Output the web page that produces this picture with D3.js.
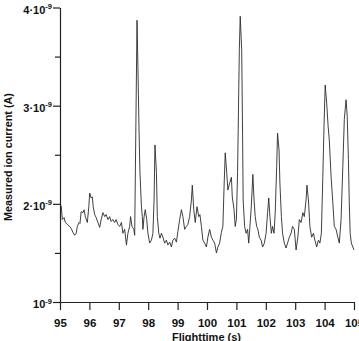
<!DOCTYPE html>
<html>
<head>
<meta charset="utf-8">
<script src="https://cdn.jsdelivr.net/npm/d3@7"></script>
<style>
  html, body { margin: 0; padding: 0; background: #fff; }
  svg { display: block; }
  text { font-family: "Liberation Sans", Arial, sans-serif; font-weight: bold; fill: #111; }
</style>
</head>
<body>
<svg id="chart" width="359" height="341"></svg>
<script>
// Flight time (s)
const flightTime = [
  95.04,95.08,95.14,95.18,95.25,95.33,95.38,95.44,95.50,95.55,95.59,95.65,95.68,95.72,95.78,95.82,95.86,95.93,95.98,
  96.01,96.06,96.10,96.13,96.18,96.23,96.29,96.35,96.40,96.46,96.52,96.57,96.63,96.69,96.74,96.80,96.86,96.91,96.97,
  97.03,97.09,97.14,97.20,97.26,97.31,97.37,97.40,97.45,97.51,97.54,97.62,97.65,97.69,97.72,97.77,97.80,97.82,97.86,97.90,97.95,97.99,
  98.05,98.11,98.16,98.20,98.23,98.28,98.31,98.36,98.40,98.45,98.50,98.56,98.62,98.67,98.73,98.79,98.84,98.90,98.96,
  99.01,99.07,99.13,99.18,99.24,99.30,99.35,99.41,99.47,99.50,99.55,99.60,99.66,99.72,99.76,99.81,99.86,99.92,99.98,
  100.03,100.09,100.15,100.20,100.26,100.32,100.37,100.43,100.49,100.54,100.58,100.62,100.67,100.71,100.77,100.83,100.86,100.92,100.96,
  101.00,101.04,101.10,101.13,101.18,101.21,101.23,101.28,101.33,101.38,101.42,101.46,101.50,101.53,101.56,101.60,101.64,101.69,101.73,101.78,101.84,101.89,101.95,
  102.01,102.06,102.10,102.14,102.19,102.23,102.28,102.32,102.37,102.40,102.45,102.48,102.53,102.57,102.63,102.69,102.74,102.80,102.86,102.91,102.97,
  103.03,103.09,103.14,103.20,103.26,103.31,103.37,103.40,103.45,103.50,103.56,103.62,103.67,103.73,103.79,103.84,103.89,103.94,103.98,
  104.02,104.07,104.12,104.16,104.22,104.28,104.33,104.39,104.45,104.50,104.56,104.62,104.67,104.73,104.77,104.81,104.84,104.87,104.91,104.96,105.00
];
// Measured ion current, in units of 1e-9 A
const ionCurrent = [
  1.98,1.84,1.86,1.81,1.79,1.77,1.75,1.71,1.68,1.70,1.77,1.81,1.80,1.92,1.91,1.94,1.87,1.81,1.97,
  2.11,2.06,2.07,1.97,1.89,1.86,1.81,1.76,1.84,1.91,1.87,1.89,1.84,1.87,1.82,1.84,1.81,1.84,1.79,
  1.77,1.81,1.70,1.74,1.58,1.70,1.77,1.87,1.77,1.74,1.68,3.87,3.40,2.72,2.32,1.97,1.87,1.74,1.87,1.94,1.84,1.70,
  1.60,1.63,1.70,2.04,2.60,2.32,1.87,1.70,1.65,1.70,1.66,1.60,1.63,1.58,1.61,1.56,1.63,1.65,1.61,
  1.72,1.84,1.94,1.87,1.74,1.77,1.79,1.87,2.04,2.19,1.94,1.81,1.97,1.87,1.89,1.77,1.63,1.60,1.56,
  1.66,1.74,1.66,1.63,1.60,1.50,1.56,1.60,1.71,1.77,2.17,2.52,2.32,2.14,2.21,2.27,2.07,1.94,1.77,
  1.84,2.32,3.57,3.91,3.57,2.72,2.04,1.77,1.70,1.74,1.60,1.77,1.94,2.11,2.30,2.04,1.87,1.77,1.74,1.66,1.63,1.56,1.60,
  1.70,1.91,2.06,1.87,1.70,1.77,1.70,1.91,2.38,2.72,2.55,2.21,1.87,1.70,1.60,1.55,1.60,1.66,1.70,1.77,1.74,
  1.53,1.66,1.84,1.81,1.91,1.87,2.04,2.19,2.04,1.77,1.66,1.70,1.63,1.56,1.63,1.60,1.70,2.28,2.79,
  3.21,3.03,2.79,2.65,2.28,2.01,1.77,1.74,1.66,1.60,1.84,2.38,2.86,3.06,2.89,2.45,2.01,1.70,1.60,1.56,1.53
];
const xTicks = [95, 96, 97, 98, 99, 100, 101, 102, 103, 104, 105];
const yTicks = [1, 2, 3, 4];
const yMinorTicks = [1.5, 2.5, 3.5];
const yTickLabels = ["10", "2·10", "3·10", "4·10"];
const yTickExponent = "-9";
const xTitle = "Flighttime (s)";
const yTitle = "Measured ion current (A)";

const svg = d3.select("#chart");
const x = d3.scaleLinear().domain([95, 105]).range([60, 354]);
const y = d3.scaleLinear().domain([1, 4]).range([302, 7.5]);

const axisColor = "#222";

// Y axis (major)
const gy = svg.append("g").attr("transform", `translate(${x(95)},0)`)
  .call(d3.axisLeft(y).tickValues(yTicks).tickSize(7).tickSizeOuter(0).tickPadding(6));
gy.select(".domain").attr("stroke", axisColor).attr("stroke-width", 1.2);
gy.selectAll(".tick line").attr("stroke", axisColor).attr("stroke-width", 1.2);
gy.selectAll(".tick text").each(function(d, i) {
  const t = d3.select(this);
  t.text(null).attr("font-size", 11).attr("dy", "0.5em").attr("x", -8)
    .attr("font-family", "'Liberation Sans', Arial, sans-serif").attr("font-weight", "bold").attr("fill", "#111");
  t.append("tspan").text(yTickLabels[yTicks.indexOf(d)]);
  t.append("tspan").attr("font-size", 7.5).attr("dy", -4.5).text(yTickExponent);
});
// Y axis (minor)
const gym = svg.append("g").attr("transform", `translate(${x(95)},0)`)
  .call(d3.axisLeft(y).tickValues(yMinorTicks).tickSize(5).tickSizeOuter(0).tickFormat(""));
gym.select(".domain").remove();
gym.selectAll(".tick line").attr("stroke", axisColor).attr("stroke-width", 1.2);

// X axis
const gx = svg.append("g").attr("transform", `translate(0,${y(1)})`)
  .call(d3.axisBottom(x).tickValues(xTicks).tickSize(8).tickSizeOuter(0).tickPadding(9).tickFormat(d3.format("d")));
gx.select(".domain").attr("stroke", axisColor).attr("stroke-width", 1.2);
gx.selectAll(".tick line").attr("stroke", axisColor).attr("stroke-width", 1.2);
gx.selectAll(".tick text").attr("font-size", 11.5)
  .attr("font-family", "'Liberation Sans', Arial, sans-serif").attr("font-weight", "bold").attr("fill", "#111");

// Trace
const data = flightTime.map((t, i) => [t, ionCurrent[i]]);
svg.append("path")
  .datum(data)
  .attr("fill", "none")
  .attr("stroke", "#2a2a2a")
  .attr("stroke-width", 0.9)
  .attr("stroke-linejoin", "round")
  .attr("d", d3.line().x(d => x(d[0])).y(d => y(d[1])));

// Titles
svg.append("text").attr("x", 206.5).attr("y", 340.5).attr("text-anchor", "middle")
  .attr("font-size", 11).text(xTitle);
svg.append("text").attr("transform", "translate(12,157) rotate(-90)").attr("text-anchor", "middle")
  .attr("font-size", 10.8).text(yTitle);
</script>
</body>
</html>
